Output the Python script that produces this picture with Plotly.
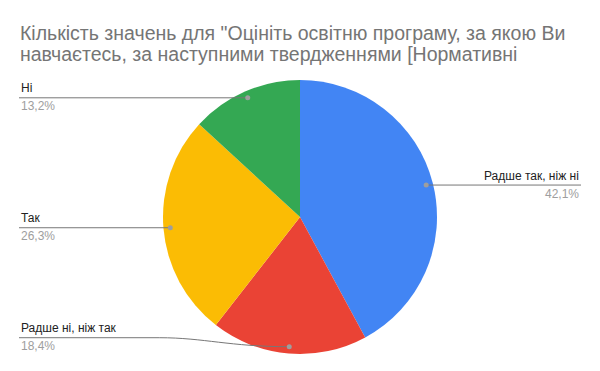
import math
import plotly.graph_objects as go

labels = ["Радше так, ніж ні", "Радше ні, ніж так", "Так", "Ні"]
values = [16, 7, 10, 5]
colors = ["#4285F4", "#EA4335", "#FBBC04", "#34A853"]
title_lines = ["Кількість значень для \"Оцініть освітню програму, за якою Ви",
               "навчаєтесь, за наступними твердженнями [Нормативні"]

W, H = 600, 371
CX, CY, R = 300, 217, 137
DOT_R = 0.95 * R
# label layout: side, line-y offset (px) relative to the dot
label_side = ["right", "left", "left", "left"]
label_dy = [0, -9, 0, 0]
LEFT_X, RIGHT_X = 19, 581
FONT = "Liberation Sans, Arial"

fig = go.Figure()
fig.add_trace(go.Pie(
    labels=labels, values=values, sort=False, direction="clockwise", rotation=0,
    marker=dict(colors=colors, line=dict(width=0)),
    textinfo="none", hoverinfo="label+percent", showlegend=False,
    domain=dict(x=[(CX - R) / W, (CX + R) / W], y=[1 - (CY + R) / H, 1 - (CY - R) / H]),
))

def px(x):
    return x / W

def py(y):
    return 1 - y / H

total = sum(values)
shapes = []
annotations = []
cum = 0
for lab, v, side, dy in zip(labels, values, label_side, label_dy):
    mid = (cum + v / 2) / total * 2 * math.pi
    cum += v
    dx_ = CX + DOT_R * math.sin(mid)
    dy_ = CY - DOT_R * math.cos(mid)
    ly = dy_ + dy
    pct = f"{v / total * 100:.1f}".replace(".", ",") + "%"
    if side == "right":
        path = f"M {px(dx_)} {py(ly)} L {px(RIGHT_X)} {py(ly)}"
        tx, anchor = RIGHT_X, "right"
    else:
        if dy == 0:
            path = f"M {px(LEFT_X)} {py(ly)} L {px(dx_)} {py(ly)}"
        else:
            bx = dx_ - 130
            path = (f"M {px(LEFT_X)} {py(ly)} L {px(bx)} {py(ly)} "
                    f"C {px(bx + 45)} {py(ly)} {px(dx_ - 60)} {py(dy_)} {px(dx_)} {py(dy_)}")
        tx, anchor = LEFT_X, "left"
    shapes.append(dict(type="path", path=path, xref="paper", yref="paper",
                       line=dict(color="#777777", width=1)))
    shapes.append(dict(type="circle", xref="paper", yref="paper",
                       x0=px(dx_ - 2.5), x1=px(dx_ + 2.5), y0=py(dy_ + 2.5), y1=py(dy_ - 2.5),
                       fillcolor="#9e9e9e", line=dict(width=0)))
    annotations.append(dict(x=px(tx), y=py(ly - 0.5), xref="paper", yref="paper",
                            text=lab, showarrow=False, xanchor=anchor, yanchor="bottom",
                            font=dict(family=FONT, size=12, color="#222222")))
    annotations.append(dict(x=px(tx), y=py(ly - 0.5), xref="paper", yref="paper",
                            text=pct, showarrow=False, xanchor=anchor, yanchor="top",
                            font=dict(family=FONT, size=12, color="#9e9e9e")))

for i, t in enumerate(title_lines):
    annotations.append(dict(x=px(18), y=py(33 + 21 * i), xref="paper", yref="paper",
                            text=t, showarrow=False, xanchor="left", yanchor="middle",
                            font=dict(family=FONT, size=19.5, color="#757575")))

fig.update_layout(
    width=W, height=H, margin=dict(l=0, r=0, t=0, b=0),
    paper_bgcolor="white", plot_bgcolor="white",
    shapes=shapes, annotations=annotations,
)
fig.write_html("out.html")
